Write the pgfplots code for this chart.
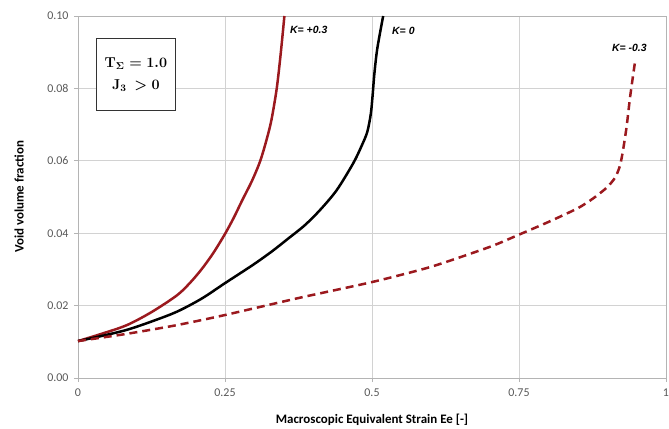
\documentclass[border=0pt]{standalone}
\usepackage{pgfplots}
\pgfplotsset{compat=1.18}
\usepackage{fontspec}
\setmainfont{Carlito}
\newfontfamily\arialf{Liberation Sans}
\definecolor{dred}{RGB}{155,25,30}
\definecolor{tickgray}{RGB}{89,89,89}
\definecolor{gridgray}{RGB}{210,210,210}
\definecolor{axgray}{RGB}{180,180,180}
\begin{document}
\begin{tikzpicture}
\begin{axis}[
  scale only axis, width=588bp, height=362bp,
  xmin=0, xmax=1, ymin=0, ymax=0.1,
  xtick={0,0.25,0.5,0.75,1}, xticklabels={0,0.25,0.5,0.75,1},
  ytick={0,0.02,0.04,0.06,0.08,0.1},
  yticklabels={0.00,0.02,0.04,0.06,0.08,0.10},
  /pgf/number format/assume math mode=true,
  grid=major, major grid style={gridgray, line width=0.8bp},
  axis line style={axgray, line width=0.8bp},
  tick style={axgray, line width=0.8bp},
  tick align=outside, major tick length=4bp,
  xtick pos=bottom, ytick pos=left,
  ticklabel style={font=\fontsize{12}{14}\selectfont, text=tickgray},
  xticklabel style={yshift=-3bp},
  yticklabel style={xshift=-2bp},
  xlabel={\bfseries Macroscopic Equivalent Strain Ee [-]},
  ylabel={\bfseries Void volume fraction},
  label style={font=\fontsize{13}{15}\selectfont},
  xlabel style={at={(axis description cs:0.5,0)}, anchor=center, yshift=-42bp},
  ylabel style={at={(axis description cs:-0.1003,0.5)}, anchor=center},
  clip=false,
]
\addplot[dred, line width=2.5bp, smooth, tension=0.5] coordinates {
(0,0.0102) (0.04,0.0122) (0.083,0.0146) (0.125,0.0182) (0.168,0.0228) (0.19,0.0262) (0.21,0.0300)
(0.23,0.0345) (0.25,0.0398) (0.265,0.0443) (0.279,0.0490) (0.296,0.0545) (0.310,0.0600) (0.321,0.0660) (0.329,0.0713)
(0.338,0.0800) (0.345,0.0900) (0.351,0.1000)};
\addplot[black, line width=2.5bp, smooth, tension=0.5] coordinates {
(0,0.0102) (0.04,0.0116) (0.083,0.0133) (0.125,0.0156) (0.168,0.0183) (0.21,0.0219) (0.25,0.0262)
(0.298,0.0313) (0.33,0.0350) (0.355,0.0382) (0.385,0.0421) (0.4116,0.0464) (0.44,0.0519) (0.468,0.0593) (0.482,0.0640)
(0.492,0.0680) (0.498,0.0730) (0.501,0.0780) (0.504,0.0840) (0.509,0.0910) (0.519,0.1000)};
\addplot[dred, line width=2.5bp, dash pattern=on 8bp off 5bp, smooth, tension=0.4] coordinates {
(0,0.0102) (0.083,0.0122) (0.168,0.0146) (0.25,0.0174) (0.378,0.0222) (0.5,0.0265)
(0.6,0.0307) (0.7,0.0362) (0.75,0.0396) (0.8,0.0431) (0.85,0.0469) (0.876,0.0496) (0.9,0.0527)
(0.914,0.0555) (0.922,0.0588) (0.927,0.0630) (0.933,0.0694) (0.939,0.0777) (0.947,0.0870)};
\node[anchor=west, font=\arialf\bfseries\itshape\fontsize{10.5}{12}\selectfont, inner sep=0pt] at (axis cs:0.3605,0.0961) {K= +0.3};
\node[anchor=west, font=\arialf\bfseries\itshape\fontsize{10.5}{12}\selectfont, inner sep=0pt] at (axis cs:0.534,0.0959) {K= 0};
\node[anchor=west, font=\arialf\bfseries\itshape\fontsize{10.5}{12}\selectfont, inner sep=0pt] at (axis cs:0.908,0.0912) {K= -0.3};
\node[draw=black!80, line width=0.8bp, fill=white, anchor=north west, minimum width=79bp, minimum height=72bp, align=center, inner sep=0pt, font=\fontsize{14}{24}\selectfont] at (axis cs:0.0306,0.0939) {{\boldmath$\mathbf{T_{\Sigma} = 1.0}$}\\[-2pt]{\boldmath$\mathbf{J_3\ >0}$}};
\coordinate (sw) at (rel axis cs:0,0);
\coordinate (ne) at (rel axis cs:1,1);
\end{axis}
\pgfresetboundingbox
\path (sw) +(-78bp,-51bp) (ne) +(3bp,16bp);
\end{tikzpicture}
\end{document}
